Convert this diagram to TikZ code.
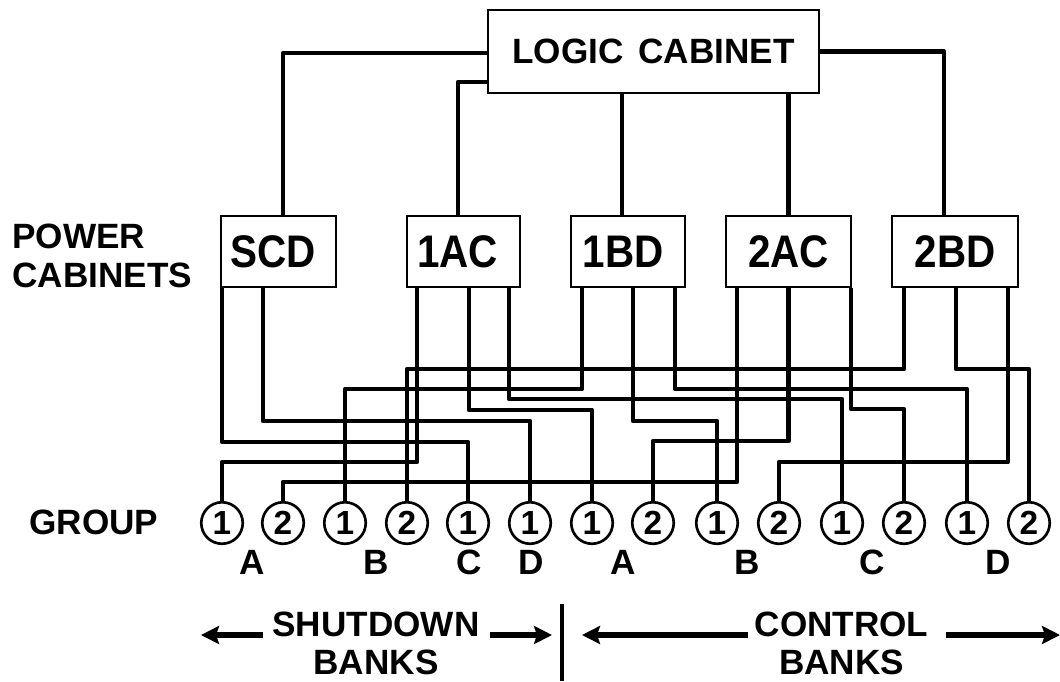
\documentclass[tikz,border=0pt]{standalone}
\usepackage{fontspec}
\setsansfont{Liberation Sans}
\usetikzlibrary{arrows.meta}

% tall cabinet lettering, with a sideways nudge
\newcommand{\tall}[2][0cm]{\hspace*{#1}\scalebox{1}[1.13]{#2}}

\begin{document}
\begin{tikzpicture}[
    font=\sffamily\bfseries,
    % Cabinet boxes
    cab/.style={draw=black, line width=1.6pt,
                minimum height=1.42cm, inner sep=0pt,
                font=\sffamily\bfseries\fontsize{23}{27}\selectfont},
    logicbox/.style={cab, minimum width=6.62cm, minimum height=1.66cm,
                font=\sffamily\bfseries\fontsize{20}{24}\selectfont},
    % Group circles
    grp/.style={draw=black, circle, line width=1.5pt, minimum size=0.83cm,
                inner sep=0pt, font=\sffamily\bfseries\fontsize{19}{22}\selectfont},
    % Plain text
    lbl/.style={inner sep=0pt, font=\sffamily\bfseries\fontsize{20}{24}\selectfont},
    % Lines
    wire/.style={draw=black, line width=2.5pt, line join=round},
    arr/.style={-{Stealth[length=0.36cm, width=0.36cm, inset=0.06cm]}, draw=black, line width=3.2pt},
]
\useasboundingbox (0,0) rectangle (21.2,-13.62);

% 1 pixel of the figure = 0.02cm, origin top left

%% ── Logic cabinet ──
\node[logicbox] (logic) at (13.07,-1.03) {LOGIC\hspace{0.3cm}CABINET};

%% ── Power cabinets  y = -5.03 ──
\node[lbl, anchor=west] (pow) at (0.24,-4.72) {POWER};
\node[lbl, anchor=west] (cbs) at (0.24,-5.50) {CABINETS};
\node[cab, minimum width=2.30cm] (scd) at (5.57, -5.03) {\tall[-0.22cm]{SCD}};
\node[cab, minimum width=2.26cm] (ac1) at (9.27, -5.03) {\tall[-0.24cm]{1AC}};
\node[cab, minimum width=2.28cm] (bd1) at (12.56,-5.03) {\tall[-0.20cm]{1BD}};
\node[cab, minimum width=2.50cm] (ac2) at (15.77,-5.03) {\tall{2AC}};
\node[cab, minimum width=2.52cm] (bd2) at (19.10,-5.03) {\tall{2BD}};

%% ── Group circles  y = -10.46 ──
\node[lbl, anchor=west] (group) at (0.58,-10.44) {GROUP};
\node[grp] (sa1) at (4.44, -10.46) {1};
\node[grp] (sa2) at (5.66, -10.46) {2};
\node[grp] (sb1) at (6.90, -10.46) {1};
\node[grp] (sb2) at (8.14, -10.46) {2};
\node[grp] (sc1) at (9.36, -10.46) {1};
\node[grp] (sd1) at (10.60,-10.46) {1};
\node[grp] (ca1) at (11.84,-10.46) {1};
\node[grp] (ca2) at (13.06,-10.46) {2};
\node[grp] (cb1) at (14.34,-10.46) {1};
\node[grp] (cb2) at (15.58,-10.46) {2};
\node[grp] (cc1) at (16.84,-10.46) {1};
\node[grp] (cc2) at (18.08,-10.46) {2};
\node[grp] (cd1) at (19.34,-10.46) {1};
\node[grp] (cd2) at (20.58,-10.46) {2};

%% ── Bank letters  y = -11.24 ──
\node[lbl] (la) at (5.04, -11.24) {A};
\node[lbl] (lb) at (7.52, -11.24) {B};
\node[lbl] (lc) at (9.38, -11.24) {C};
\node[lbl] (ld) at (10.62,-11.24) {D};
\node[lbl] (ra) at (12.46,-11.24) {A};
\node[lbl] (rb) at (14.94,-11.24) {B};
\node[lbl] (rc) at (17.44,-11.24) {C};
\node[lbl] (rd) at (19.96,-11.24) {D};

%% ── Bank captions ──
\node[lbl] (shut) at (7.52, -12.48) {SHUTDOWN};
\node[lbl] (sbk)  at (7.52, -13.24) {BANKS};
\node[lbl] (ctl)  at (16.83,-12.48) {CONTROL};
\node[lbl] (cbk)  at (16.83,-13.24) {BANKS};

\coordinate (stip)  at (4.02, -12.70);
\coordinate (etip)  at (11.04,-12.70);
\coordinate (ltip)  at (11.64,-12.70);
\coordinate (rtip)  at (21.20,-12.70);
\coordinate (divt)  at (11.24,-12.08);
\coordinate (divb)  at (11.24,-13.62);

%% ── Logic cabinet to power cabinets ──
\draw[wire] ([yshift=-0.03cm]logic.west) -| ([xshift=0.09cm]scd.north);
\draw[wire] ([yshift=-0.61cm]logic.west) -| ([xshift=-0.11cm]ac1.north);
\draw[wire] ([xshift=-0.12cm]bd1.north) -- ([xshift=-0.12cm]bd1.north |- logic.south);
\draw[wire] (ac2.north) -- (ac2.north |- logic.south);
\draw[wire] (logic.east) -| ([xshift=-0.22cm]bd2.north);

%% ── Power cabinets to groups ──
\draw[wire] ([xshift=-1.13cm]scd.south) |- (sc1 |- 0,-8.84) -- (sc1.north);
\draw[wire] ([xshift=-0.31cm]scd.south) |- (sd1 |- 0,-8.42) -- (sd1.north);

\draw[wire] ([xshift=-0.93cm]ac1.south) |- (sa1 |- 0,-9.24) -- (sa1.north);
\draw[wire] ([xshift=0.11cm]ac1.south)  |- (ca1 |- 0,-8.20) -- (ca1.north);
\draw[wire] ([xshift=0.91cm]ac1.south)  |- (cc1 |- 0,-7.98) -- (cc1.north);

\draw[wire] ([xshift=-0.92cm]bd1.south) |- (sb1 |- 0,-7.78) -- (sb1.north);
\draw[wire] ([xshift=0.10cm]bd1.south)  |- (cb1 |- 0,-8.42) -- (cb1.north);
\draw[wire] ([xshift=0.94cm]bd1.south)  |- (cd1 |- 0,-7.78) -- (cd1.north);

\draw[wire] ([xshift=-1.03cm]ac2.south) |- (sa2 |- 0,-9.64) -- (sa2.north);
\draw[wire] (ac2.south)                 |- (ca2 |- 0,-8.82) -- (ca2.north);
\draw[wire] ([xshift=1.25cm]ac2.south)  |- (cc2 |- 0,-8.18) -- (cc2.north);

\draw[wire] ([xshift=-1.02cm]bd2.south) |- (sb2 |- 0,-7.38) -- (sb2.north);
\draw[wire] ([xshift=0.02cm]bd2.south)  |- (cd2 |- 0,-7.38) -- (cd2.north);
\draw[wire] ([xshift=1.06cm]bd2.south)  |- (cb2 |- 0,-9.24) -- (cb2.north);

%% ── Bank arrows ──
\draw[arr] ([xshift=-0.18cm]shut.west |- stip) -- (stip);
\draw[arr] ([xshift=0.20cm]shut.east |- etip) -- (etip);
\draw[arr] ([xshift=-0.12cm]ctl.west |- ltip) -- (ltip);
\draw[arr] ([xshift=0.34cm]ctl.east |- rtip) -- (rtip);
\draw[wire] (divt) -- (divb);

\end{tikzpicture}
\end{document}
